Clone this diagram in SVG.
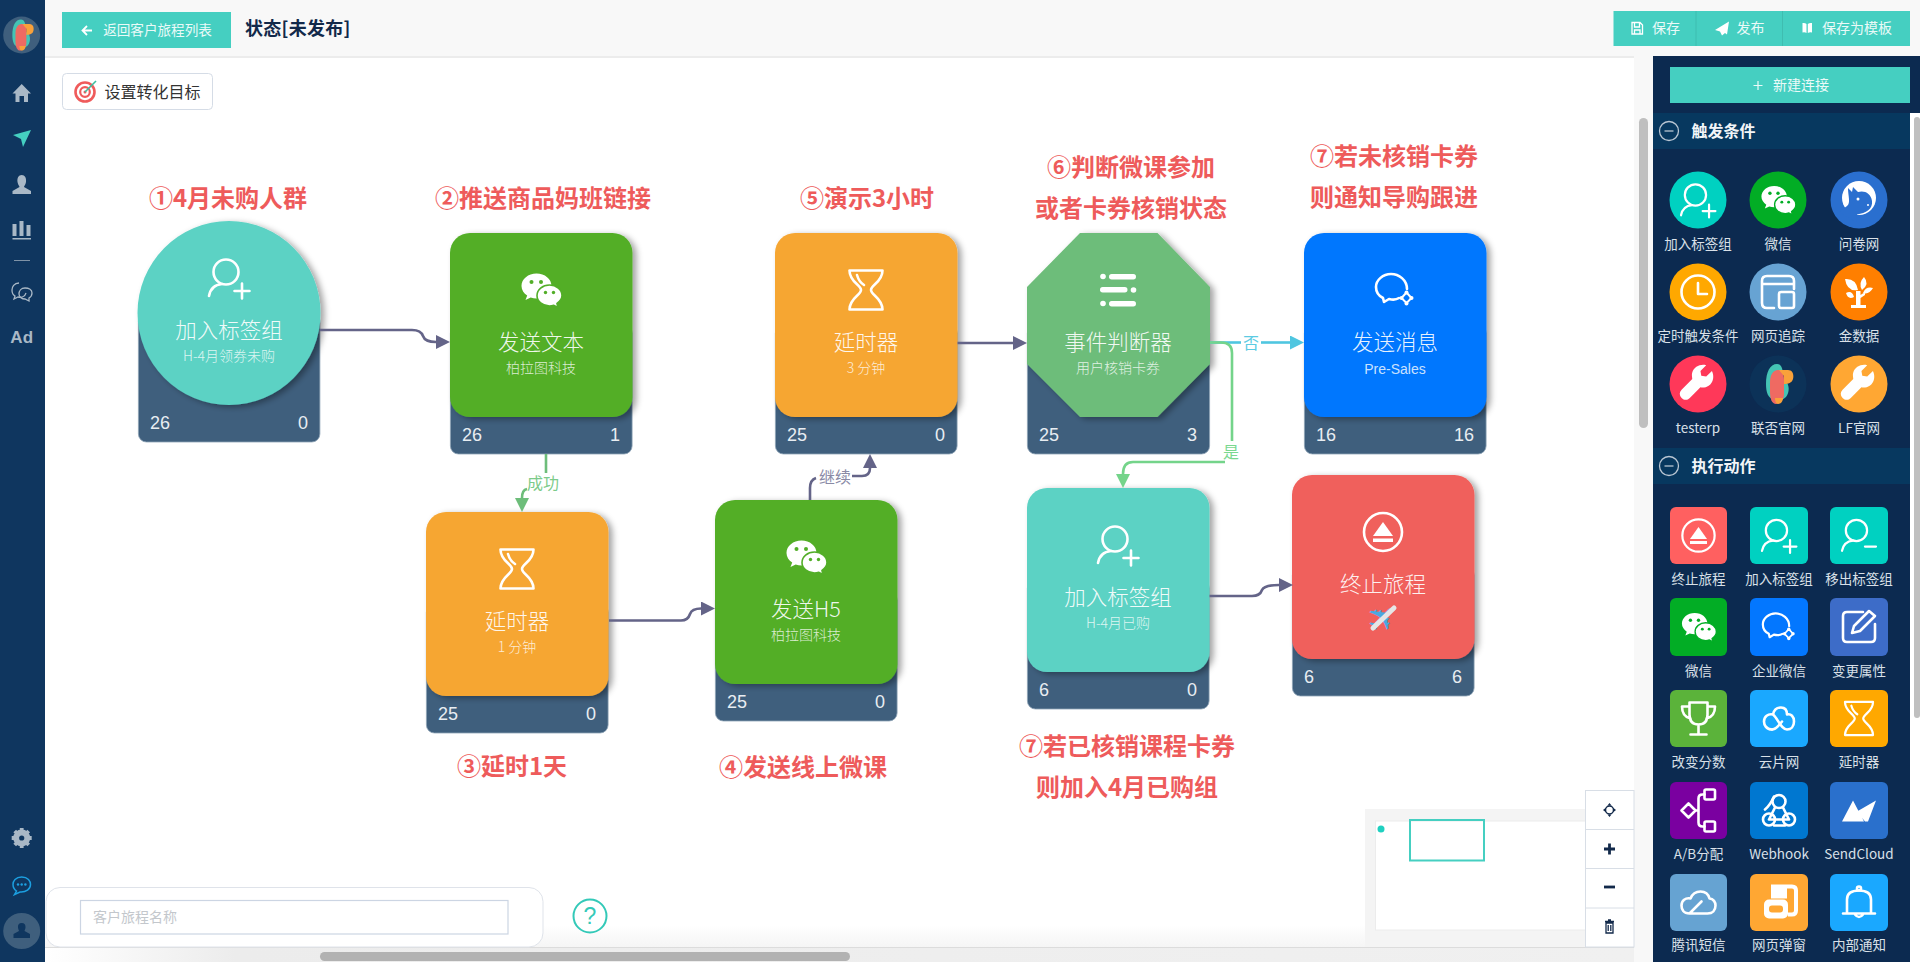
<svg xmlns="http://www.w3.org/2000/svg" width="1920" height="962" viewBox="0 0 1920 962">
<style>
text{font-family:"Noto Sans CJK SC","Liberation Sans",sans-serif}
.c{text-anchor:middle;dominant-baseline:central}
.note{font-size:24px;font-weight:700;fill:#ee5b5b;text-anchor:middle;dominant-baseline:central;transform:translateY(-2.5px)}
.ttl{font-size:21.5px;font-weight:300;fill:#fff;fill-opacity:.92;text-anchor:middle;dominant-baseline:central;transform:translateY(-2.2px)}
.sub{font-size:14px;font-weight:300;fill:#fff;fill-opacity:.8;text-anchor:middle;dominant-baseline:central;transform:translateY(-2px)}
.num{font-family:"Liberation Sans",sans-serif;font-size:18px;fill:#e8edf2;dominant-baseline:central}
.foot{fill:#3f5f7d;stroke:#8ea3b6;stroke-width:.8}
.lb{font-size:13.5px;fill:#d9e0e8;text-anchor:middle;dominant-baseline:central;transform:translateY(-1.5px)}
.btn{font-size:14px;fill:#eafaf8;text-anchor:middle;dominant-baseline:central;transform:translateY(-1.3px)}
.ln{fill:none;stroke:#fff;stroke-width:2.6;stroke-linecap:round;stroke-linejoin:round}
.wf{fill:#fff}
.side{fill:#a9b8c6}
.con{fill:none;stroke-width:2.6}
.head{font-size:16px;font-weight:700;fill:#f2f5f8;dominant-baseline:central;transform:translateY(-1.5px)}
.cl{font-size:16px;text-anchor:middle;dominant-baseline:central;transform:translateY(-1.5px)}
</style>
<defs>
<filter id="sh" x="-15%" y="-15%" width="135%" height="135%"><feDropShadow dx="4" dy="2" stdDeviation="3" flood-color="#000" flood-opacity=".36"/></filter>
<linearGradient id="bot" x1="0" x2="1" y1="0" y2="0"><stop offset="0" stop-color="#fff"/><stop offset=".12" stop-color="#ececec"/><stop offset="1" stop-color="#f0f0f0"/></linearGradient>
<linearGradient id="fade" x1="0" x2="0" y1="0" y2="1"><stop offset="0" stop-color="#fff"/><stop offset="1" stop-color="#f5f5f5"/></linearGradient>
<marker id="aP" markerUnits="userSpaceOnUse" markerWidth="15" markerHeight="16" refX="0" refY="7" orient="auto"><path d="M0 0L14 7L0 14Z" fill="#646488"/></marker>
<marker id="aG" markerUnits="userSpaceOnUse" markerWidth="15" markerHeight="16" refX="0" refY="7" orient="auto"><path d="M0 0L14 7L0 14Z" fill="#6dbd7a"/></marker>
<marker id="aL" markerUnits="userSpaceOnUse" markerWidth="15" markerHeight="16" refX="0" refY="7" orient="auto"><path d="M0 0L14 7L0 14Z" fill="#74d48a"/></marker>
<marker id="aB" markerUnits="userSpaceOnUse" markerWidth="15" markerHeight="16" refX="0" refY="7" orient="auto"><path d="M0 0L14 7L0 14Z" fill="#4fc6e0"/></marker>
<g id="i-person"><circle class="ln" cx="-3" cy="-6" r="12.5"/><path class="ln" d="M-20 18Q-18 7-7 6M13 5.500V20.500M5.500 13H20.500"/></g>
<g id="i-minus"><circle class="ln" cx="-3" cy="-6" r="12.5"/><path class="ln" d="M-20 18Q-18 7-7 6M7 13H20"/></g>
<g id="i-wechat"><path class="wf" d="M-4.500-16.500C-12.800-16.500-19.500-11-19.500-4C-19.500 0-17.200 3.300-13.800 5.600L-15.500 10L-10.300 7.500C-8.500 8.100-6.500 8.500-4.500 8.500C3.800 8.500 10.500 3 10.500-4C10.500-11 3.800-16.500-4.500-16.500Z"/><path class="wf" d="M8.500-5C1.500-5-4-.3-4 5.500C-4 11.300 1.500 16 8.500 16C10 16 11.500 15.700 12.800 15.300L17 17.500L16 13.500C19 11.300 21 8.500 21 5.500C21-.3 15.500-5 8.500-5Z" stroke="currentColor" stroke-width="1.600"/><circle cx="-9.500" cy="-8" r="2" fill="currentColor"/><circle cx="0" cy="-8" r="2" fill="currentColor"/><circle cx="4.500" cy="2.500" r="1.700" fill="currentColor"/><circle cx="12.500" cy="2.500" r="1.700" fill="currentColor"/></g>
<g id="i-glass"><path class="ln" d="M-16.500-19.500H16.500C16.500-8 5-5 5 0C5 5 16.500 8 16.500 19.500H-16.500C-16.500 8-5 5-5 0C-5-5-16.500-8-16.500-19.500ZM-9-15Q-7-8-2-5"/></g>
<g id="i-list"><g class="wf"><circle cx="-15" cy="-13.500" r="2.800"/><rect x="-9" y="-16" width="27" height="5.400" rx="2.700"/><rect x="-18" y="-3" width="27.500" height="5.400" rx="2.700"/><circle cx="15.500" cy="0" r="2.800"/><circle cx="-15" cy="13.500" r="2.800"/><rect x="-9" y="11" width="27" height="5.400" rx="2.700"/></g></g>
<g id="i-wecom"><path class="ln" d="M12-1C12-10 4-16-4-16C-12-16-19-10-19-3C-19 2-16 6-12 8L-11 12L-6 9C-2 10 1 10 4 8"/><path class="ln" d="M11.500 2.500L16.500 8L11.500 13L6.500 8Z" style="stroke-width:2"/><circle class="wf" cx="11.500" cy="2.500" r="2"/><circle class="wf" cx="16.500" cy="8" r="2"/><circle class="wf" cx="11.500" cy="13.500" r="2"/><circle class="wf" cx="6.500" cy="8" r="2"/></g>
<g id="i-eject"><circle class="ln" r="19"/><path class="wf" d="M0-10L10 4H-10Z"/><rect class="wf" x="-10" y="6.500" width="20" height="3.500"/></g>
<g id="i-clock"><circle class="ln" r="16.500"/><path class="ln" d="M0-9V2H9"/></g>
<g id="i-window"><path class="ln" d="M16-3V-11Q16-16 11-16H-11Q-16-16-16-11V11Q-16 16-11 16H-4M-16-8H16"/><rect class="ln" x="1" y="0" width="15" height="16" rx="2"/></g>
<g id="i-plant"><path class="wf" d="M-14-13Q-3-14-1-2Q-12 0-14-13ZM5-15Q11-8 3-2Q-1-9 5-15ZM14-4Q10 3 4 1Q7-6 14-4ZM-13 1Q-7-2-5 5Q-11 8-13 1ZM-3-1H1.500V3L6 0V3L1.500 6V13H7V16H-8V13H-3Z"/></g>
<g id="i-dog"><circle class="wf" cy="-2" r="17"/><path fill="currentColor" d="M-11-12L-7-8L-6-13L-1-8C5-10 12-7 13 1C14 9 7 13-2 14.500L-3 22L-20 12L-12 6C-8 3-11-4-11-12Z"/><circle class="wf" cx="-1" cy="-1" r="1.500"/><circle class="wf" cx="9" cy="5" r="1"/></g>
<g id="i-wrench"><path class="wf" d="M17-16L10-9L4-10L3-16L10-23C3-25-5-21-7-14C-8-11-7-8-7-6L-20 7C-23 10-23 14-20 17C-17 20-13 20-10 17L3 4C6 5 10 4 13 2C19-2 20-10 17-16Z" transform="scale(.82)"/></g>
<g id="i-logo"><path fill="#45c4b4" d="M-12 0C-12-12-8-20-1-20C4-20 5-14 5-8V-4C12-2 12 8 8 13C4 17-2 18-4 15C-10 15-12 8-12 0Z"/><path fill="#ef6a62" d="M-8-2C-8-9-5-14 0-14C5-14 6-9 6-4V10C6 16 1 20-2 20C-6 20-8 15-8 8Z"/><path fill="#f9a13a" d="M1-14H10C15-14 16-9 15-5C14-1 10 0 6 0V-8ZM-3 14H5C5 17 3 20 0 20C-2 20-3 17-3 14Z"/></g>
<g id="i-trophy"><path class="ln" d="M-9-16H9V-4Q9 6 0 6Q-9 6-9-4ZM-9-12H-16.500Q-16.500-2-8 0M9-12H16.500Q16.500-2 8 0M0 6V16M-8 16H8"/></g>
<g id="i-cloud"><path class="ln" d="M-7 11C-13 11-15 6-15 3C-15-2-11-5-6-4C-5-9-2-11 2-11C6-11 8-8 8-4C12-5 15-2 15 3C15 8 12 11 8 11C2 11-1 0-6-4"/><path class="ln" d="M-7 11C-3 11 0 7 3 3"/></g>
<g id="i-ab"><path class="ln" d="M-17 0L-10-7L-3 0L-10 7ZM-3 0H0M0-12Q0-16 4-16H6M0 12Q0 16 4 16H6M0-12V12"/><rect class="ln" x="6" y="-21" width="10.500" height="10" rx="1.500"/><rect class="ln" x="6" y="11" width="10.500" height="10" rx="1.500"/></g>
<g id="i-hook"><circle class="ln" cx="0" cy="-9" r="6.500"/><circle class="ln" cx="-10" cy="9" r="6"/><circle class="ln" cx="10" cy="9" r="6"/><path class="ln" d="M-4-3L-10 9M4-3L10 9M-10 9H10M-5-14Q-9-5-14-1M-5 15H6"/></g>
<g id="i-send"><path class="wf" d="M-17 11L-6-10L5 11ZM-2 1L17-10L9 11H6Z"/></g>
<g id="i-edit"><path class="ln" d="M4-15H-12Q-16-15-16-11V11Q-16 15-12 15H12Q16 15 16 11V-3M-7 6L-5-1L10-16L16-11L1 4Z"/></g>
<g id="i-popup"><path d="M-8-16H13Q17-16 17-12V8Q17 12 13 12H9" fill="none" stroke="#fff" stroke-width="4"/><path class="wf" d="M-8-16H8V-4H-8Z"/><rect class="wf" x="-15" y="-3" width="24" height="19" rx="5"/><rect x="-10" y="3" width="14" height="7" rx="3" fill="currentColor"/></g>
<g id="i-bell"><path class="ln" d="M-12 11V-3Q-12-12 0-12Q12-12 12-3V11M-16 11H16M-4 12Q0 17 4 12"/><circle class="ln" cy="-14" r="2"/></g>
<g id="i-tx"><path class="ln" d="M-9 11C-15 11-17 7-17 3C-17-2-13-5-8-4C-6-9-2-11 2-11C7-11 10-8 11-4C15-4 17 0 17 3C17 8 14 11 9 11H-9L3-1"/></g>
</defs>

<rect width="1920" height="962" fill="#fff"/>

<!-- canvas chrome -->
<rect x="45" y="56" width="1589" height="2" fill="#ececec"/>
<rect x="45" y="0" width="1875" height="56" fill="#f8f8f8"/>
<rect x="45" y="925" width="1589" height="22" fill="url(#fade)"/>
<rect x="45" y="947" width="1589" height="15" fill="url(#bot)"/>
<rect x="45" y="947" width="1589" height="1" fill="#dcdcdc"/>
<rect x="320" y="952" width="530" height="9" rx="4.500" fill="#b2b2b2"/>
<rect x="1634" y="56" width="19" height="906" fill="#f8f8f8"/>
<rect x="1639" y="118" width="9" height="310" rx="4.500" fill="#bfbfbf"/>

<!-- left sidebar -->
<g id="sidebar">
<rect width="45" height="962" fill="#0f365f"/>
<circle cx="21.700" cy="35" r="18.500" fill="#3f5f7d"/>
<use href="#i-logo" transform="translate(21.700 35) scale(.78)"/>
<path class="side" d="M21.700 84L31 93.500H28V102H24V96H19.500V102H15.500V93.500H12.500Z"/>
<path fill="#45cfc1" d="M13 135L31 130L23 147L21 139Z"/>
<path class="side" d="M21.700 175C25 175 26.500 178 26 182C25.500 185 24 186 24 187L31 191V194H12.500V191L19.500 187C19.500 186 18 185 17.500 182C17 178 18.500 175 21.700 175Z"/>
<path class="side" d="M12.500 224H16.500V236H12.500ZM19.500 221H23.500V236H19.500ZM26.500 225H30.500V236H26.500ZM12.500 238H31V239.500H12.500Z"/>
<rect x="14" y="260" width="16" height="1" fill="#7f93a7"/>
<g fill="none" stroke="#a9b8c6" stroke-width="1.300"><path d="M19 283C14 283 12 287 12 290C12 293 13 295 15 296L14 299L18 297C22 298 25 296 26 293"/><path d="M25 288C21 288 19 291 19 294C19 297 22 299 25 299L29 301L29 298C31 297 32 295 32 293C32 290 29 288 25 288Z"/></g>
<text x="21.700" y="337" class="c" style="font-family:'Liberation Sans',sans-serif;font-weight:700;font-size:17px;fill:#a9b8c6">Ad</text>
<g transform="translate(21.700 838)"><circle r="6" fill="none" stroke="#a9b8c6" stroke-width="5"/><g stroke="#a9b8c6" stroke-width="3.800"><path d="M0-10V10M-10 0H10M-7-7L7 7M-7 7L7-7"/></g><circle r="5.500" fill="#a9b8c6"/><circle r="2.600" fill="#0f365f"/></g>
<path d="M21.700 877C15.500 877 13 881 13 884.500C13 888 15 890 16.500 891L14.500 894.500L20 892C26 892.500 30.500 889 30.500 884.500C30.500 881 28 877 21.700 877Z" fill="none" stroke="#1c9fe0" stroke-width="1.500"/>
<g fill="#1c9fe0"><circle cx="18" cy="884.500" r="1.200"/><circle cx="21.700" cy="884.500" r="1.200"/><circle cx="25.400" cy="884.500" r="1.200"/></g>
<ellipse cx="21.700" cy="931" rx="18.500" ry="18" fill="#3f5f7d"/>
<path fill="#0f365f" d="M21.700 923C24.500 923 25.800 925 25.500 927.500C25.300 929.500 24.500 930.500 24.500 931L30 934V938H13.500V934L19 931C19 930.500 18.200 929.500 18 927.500C17.600 925 19 923 21.700 923Z"/>
</g>

<!-- top bar -->
<g id="topbar">
<rect x="62" y="12" width="169" height="36" fill="#45cfc1"/>
<path d="M92 30.500H83M87 26L82.500 30.500L87 35" fill="none" stroke="#fff" stroke-width="1.800"/>
<text x="157.500" y="30.500" class="btn" style="font-size:13.600px">返回客户旅程列表</text>
<text x="245" y="27" style="font-size:18px;font-weight:700;letter-spacing:.3px;fill:#12294a;dominant-baseline:central">状态[未发布]</text>
<rect x="1613.500" y="11" width="296.500" height="35" fill="#45cfc1"/>
<path d="M1696 11V46M1782.500 11V46" stroke="#3fbdb0" stroke-width="1"/>
<path d="M1632 22.500H1640L1642.500 25V34H1632ZM1634.500 22.500V27H1639.500V22.500M1634.500 34V30H1640V34" fill="none" stroke="#fff" stroke-width="1.300"/>
<text x="1666" y="28.500" class="btn">保存</text>
<path d="M1729 21.500L1715 30L1720 31.500L1722 35.500L1725 33L1727 34.500Z" fill="#fff"/>
<text x="1750.500" y="28.500" class="btn">发布</text>
<path d="M1802.500 23Q1805 22.500 1806.500 24V33Q1805 32 1802.500 32.500ZM1812 23Q1809.500 22.500 1807.800 24V33Q1809.500 32 1812 32.500Z" fill="#fff"/>
<text x="1857" y="28.500" class="btn">保存为模板</text>
</g>
<g id="goal">
<rect x="62.500" y="73.500" width="150" height="36" rx="4" fill="#fff" stroke="#d5dce6"/>
<circle cx="85" cy="92" r="9.500" fill="none" stroke="#ef5b5b" stroke-width="2.600"/>
<circle cx="85" cy="92" r="4.800" fill="none" stroke="#ef5b5b" stroke-width="2.200"/>
<circle cx="85" cy="92" r="1.500" fill="#ef5b5b"/>
<path d="M85 92L96 81" stroke="#3dbfa0" stroke-width="1.600"/>
<text x="152.500" y="91.200" class="c" style="font-size:16px;fill:#333">设置转化目标</text>
</g>

<!-- annotations -->
<g id="notes">
<text class="note" x="228" y="199">①4月未购人群</text>
<text class="note" x="543" y="199">②推送商品妈班链接</text>
<text class="note" x="512" y="767">③延时1天</text>
<text class="note" x="803" y="768">④发送线上微课</text>
<text class="note" x="867" y="199">⑤演示3小时</text>
<text class="note" x="1131" y="168">⑥判断微课参加</text>
<text class="note" x="1131" y="209">或者卡券核销状态</text>
<text class="note" x="1394" y="157">⑦若未核销卡券</text>
<text class="note" x="1394" y="198">则通知导购跟进</text>
<text class="note" x="1127" y="747">⑦若已核销课程卡券</text>
<text class="note" x="1127" y="788">则加入4月已购组</text>
</g>

<!-- nodes -->
<g id="node-1" transform="translate(138 221)">
<rect class="foot" x=".4" y="92" width="181.500" height="129" rx="8"/>
<ellipse cx="91" cy="92" rx="91.500" ry="92" fill="#5cd2c4" filter="url(#sh)"/>
<use href="#i-person" transform="translate(91 57)"/>
<text class="ttl" x="91" y="110">加入标签组</text><text class="sub" x="91" y="136">H-4月领券未购</text>
<text class="num" x="12" y="202">26</text><text class="num" x="170" y="202" text-anchor="end">0</text>
</g>
<g id="node-2" transform="translate(450 233)" color="#52ae28">
<rect class="foot" x=".4" y="92" width="181.700" height="129" rx="8"/>
<rect width="182.500" height="184" rx="20" fill="#52ae28" filter="url(#sh)"/>
<use href="#i-wechat" transform="translate(91 57)"/>
<text class="ttl" x="91" y="110">发送文本</text><text class="sub" x="91" y="136">柏拉图科技</text>
<text class="num" x="12" y="202">26</text><text class="num" x="170" y="202" text-anchor="end">1</text>
</g>
<g id="node-3" transform="translate(426 512)">
<rect class="foot" x=".4" y="92" width="181.700" height="129" rx="8"/>
<rect width="182.500" height="184" rx="20" fill="#f6a632" filter="url(#sh)"/>
<use href="#i-glass" transform="translate(91 57)"/>
<text class="ttl" x="91" y="110">延时器</text><text class="sub" x="91" y="136">1 分钟</text>
<text class="num" x="12" y="202">25</text><text class="num" x="170" y="202" text-anchor="end">0</text>
</g>
<g id="node-4" transform="translate(715 500)" color="#52ae28">
<rect class="foot" x=".4" y="92" width="181.700" height="129" rx="8"/>
<rect width="182.500" height="184" rx="20" fill="#52ae28" filter="url(#sh)"/>
<use href="#i-wechat" transform="translate(91 57)"/>
<text class="ttl" x="91" y="110">发送H5</text><text class="sub" x="91" y="136">柏拉图科技</text>
<text class="num" x="12" y="202">25</text><text class="num" x="170" y="202" text-anchor="end">0</text>
</g>
<g id="node-5" transform="translate(775 233)">
<rect class="foot" x=".4" y="92" width="181.700" height="129" rx="8"/>
<rect width="182.500" height="184" rx="20" fill="#f6a632" filter="url(#sh)"/>
<use href="#i-glass" transform="translate(91 57)"/>
<text class="ttl" x="91" y="110">延时器</text><text class="sub" x="91" y="136">3 分钟</text>
<text class="num" x="12" y="202">25</text><text class="num" x="170" y="202" text-anchor="end">0</text>
</g>
<g id="node-6" transform="translate(1027 233)">
<rect class="foot" x=".4" y="92" width="182.200" height="129" rx="8"/>
<path d="M53 0H130.500L183 54V131L130.500 184H53L0 131V54Z" fill="#6dbd7a" filter="url(#sh)"/>
<use href="#i-list" transform="translate(91 57)"/>
<text class="ttl" x="91" y="110">事件判断器</text><text class="sub" x="91" y="136">用户核销卡券</text>
<text class="num" x="12" y="202">25</text><text class="num" x="170" y="202" text-anchor="end">3</text>
</g>
<g id="node-7" transform="translate(1304 233)">
<rect class="foot" x=".4" y="92" width="181.700" height="129" rx="8"/>
<rect width="182.500" height="184" rx="20" fill="#0277fe" filter="url(#sh)"/>
<use href="#i-wecom" transform="translate(91 57)"/>
<text class="ttl" x="91" y="110">发送消息</text><text class="sub" x="91" y="136" style="font-family:'Liberation Sans',sans-serif;transform:none">Pre-Sales</text>
<text class="num" x="12" y="202">16</text><text class="num" x="170" y="202" text-anchor="end">16</text>
</g>
<g id="node-8" transform="translate(1027 488)">
<rect class="foot" x=".4" y="92" width="181.700" height="129" rx="8"/>
<rect width="182.500" height="184" rx="20" fill="#5cd2c4" filter="url(#sh)"/>
<use href="#i-person" transform="translate(91 57)"/>
<text class="ttl" x="91" y="110">加入标签组</text><text class="sub" x="91" y="136">H-4月已购</text>
<text class="num" x="12" y="202">6</text><text class="num" x="170" y="202" text-anchor="end">0</text>
</g>
<g id="node-9" transform="translate(1292 475)">
<rect class="foot" x=".4" y="92" width="181.700" height="129" rx="8"/>
<rect width="182.500" height="184" rx="20" fill="#f0605b" filter="url(#sh)"/>
<use href="#i-eject" transform="translate(91 57)"/>
<text class="ttl" x="91" y="110">终止旅程</text>
<text x="90" y="143" class="c" style="font-family:'DejaVu Sans',sans-serif;font-size:36px;fill:#4aa8e0" transform="rotate(-45 90 143)">✈</text>
<path d="M81 153L102 133" stroke="#e6e6e6" stroke-width="5" stroke-linecap="round"/>
<text class="num" x="12" y="202">6</text><text class="num" x="170" y="202" text-anchor="end">6</text>
</g>

<!-- connectors -->
<g id="connectors">
<path class="con" stroke="#646488" marker-end="url(#aP)" d="M320 330H412Q421 330 423 336Q425 342 436 342"/>
<path class="con" stroke="#6dbd7a" d="M546 454V473"/>
<path class="con" stroke="#6dbd7a" marker-end="url(#aG)" d="M527 489Q522 490 522 498"/>
<text class="cl" x="543" y="483" fill="#7ccb8a">成功</text>
<path class="con" stroke="#646488" marker-end="url(#aP)" d="M609 620.500H681Q688 620.500 690 614Q692 608.500 701 608.500"/>
<path class="con" stroke="#646488" d="M810 500V488Q810 480 816 478"/>
<path class="con" stroke="#646488" marker-end="url(#aP)" d="M852 476H862Q870 476 870 468"/>
<text class="cl" x="835" y="477" fill="#8a8aa6">继续</text>
<path class="con" stroke="#646488" marker-end="url(#aP)" d="M957.500 343H1013"/>
<path class="con" stroke="#4fc6e0" d="M1210 342.500H1241"/>
<path class="con" stroke="#4fc6e0" marker-end="url(#aB)" d="M1261 342.500H1290"/>
<text class="cl" x="1251" y="343" fill="#5ccbe3">否</text>
<path class="con" stroke="#74d48a" d="M1210 342.500H1221Q1232 342.500 1232 353V441"/>
<path class="con" stroke="#74d48a" marker-end="url(#aL)" d="M1225 462H1133Q1123 462 1123 474"/>
<text class="cl" x="1231" y="452" fill="#7ad88f">是</text>
<path class="con" stroke="#646488" marker-end="url(#aP)" d="M1209.500 596H1252Q1260 596 1262 590Q1264 585 1279 585"/>
</g>

<!-- bottom form -->
<g id="name-form">
<rect x="46" y="887.500" width="497" height="59.500" rx="14" fill="#fff" stroke="#dfe3ea"/>
<rect x="80.500" y="900.500" width="427.500" height="33.500" fill="#fff" stroke="#ccd5e3" stroke-width="1.200"/>
<text x="93" y="916" style="font-size:14px;fill:#c3c7cc;dominant-baseline:central">客户旅程名称</text>
<circle cx="590" cy="916" r="16.500" fill="#fff" stroke="#33c9b8" stroke-width="2"/>
<text x="590" y="916" class="c" style="font-family:'Liberation Sans',sans-serif;font-size:23px;fill:#33c9b8">?</text>
</g>

<!-- minimap and tools -->
<g id="minimap">
<rect x="1365" y="809" width="220" height="138" fill="#f4f4f4"/>
<rect x="1375.500" y="821" width="210" height="109" fill="#fff" stroke="#ececec"/>
<circle cx="1381" cy="829" r="3.500" fill="#1fd0c0"/>
<rect x="1410" y="820" width="74" height="40.500" fill="none" stroke="#45cfc1" stroke-width="2"/>
</g>
<g id="tools">
<rect x="1585.500" y="790.500" width="48.500" height="156.500" fill="#fff" stroke="#d8dee6"/>
<path d="M1585.500 829.500H1634M1585.500 868.500H1634M1585.500 908H1634" stroke="#d8dee6"/>
<circle cx="1609.500" cy="810" r="4" fill="none" stroke="#12294a" stroke-width="1.500"/>
<path d="M1609.500 803L1607.500 805.500H1611.500ZM1609.500 817L1607.500 814.500H1611.500ZM1603 810L1605.500 808V812ZM1616 810L1613.500 808V812Z" fill="#12294a"/>
<path d="M1609.500 843.500V854.500M1604 849H1615" stroke="#12294a" stroke-width="2.800"/>
<path d="M1604 887H1615" stroke="#12294a" stroke-width="2.800"/>
<path d="M1606 923H1613V933H1606ZM1605 921.500H1614M1608 920H1611M1608.200 925V931M1610.800 925V931" fill="none" stroke="#12294a" stroke-width="1.300"/>
</g>

<!-- right panel -->
<g id="panel">
<rect x="1653" y="56" width="267" height="906" fill="#0c2a50"/>
<rect x="1910" y="113" width="10" height="849" fill="#fff"/>
<rect x="1914" y="117" width="6" height="601" rx="3" fill="#bfbfbf"/>
<rect x="1670" y="67" width="240" height="36" fill="#45cfc1"/>
<path d="M1758 81V90M1753.500 85.500H1762.500" stroke="#eafaf8" stroke-width="1.200"/>
<text x="1801" y="85.500" class="btn">新建连接</text>
<rect x="1653" y="113" width="257" height="36" fill="#07385f"/>
<circle cx="1669" cy="131" r="9.500" fill="none" stroke="#b9c6d3" stroke-width="1.300"/><path d="M1664.500 131H1673.500" stroke="#b9c6d3" stroke-width="1.300"/>
<text x="1691.500" y="131.500" class="head">触发条件</text>
<rect x="1653" y="448" width="257" height="36" fill="#07385f"/>
<circle cx="1669" cy="466" r="9.500" fill="none" stroke="#b9c6d3" stroke-width="1.300"/><path d="M1664.500 466H1673.500" stroke="#b9c6d3" stroke-width="1.300"/>
<text x="1691.500" y="466.500" class="head">执行动作</text>

<g id="t1" color="#00d1c1"><circle cx="1698" cy="200" r="28.500" fill="#00d1c1"/><use href="#i-person" transform="translate(1698 200) scale(.85)"/><text class="lb" x="1698" y="244">加入标签组</text></g>
<g id="t2" color="#02ad25"><circle cx="1778" cy="200" r="28.500" fill="#02ad25"/><use href="#i-wechat" transform="translate(1778 200) scale(.85)"/><text class="lb" x="1778" y="244">微信</text></g>
<g id="t3" color="#2a6fcf"><circle cx="1859" cy="200" r="28.500" fill="#2a6fcf"/><use href="#i-dog" transform="translate(1859 200)"/><text class="lb" x="1859" y="244">问卷网</text></g>
<g id="t4"><circle cx="1698" cy="292" r="28.500" fill="#ffa800"/><use href="#i-clock" transform="translate(1698 292)"/><text class="lb" x="1698" y="336">定时触发条件</text></g>
<g id="t5"><circle cx="1778" cy="292" r="28.500" fill="#67a3d3"/><use href="#i-window" transform="translate(1778 292)"/><text class="lb" x="1778" y="336">网页追踪</text></g>
<g id="t6"><circle cx="1859" cy="292" r="28.500" fill="#ff7f00"/><use href="#i-plant" transform="translate(1859 292)"/><text class="lb" x="1859" y="336">金数据</text></g>
<g id="t7"><circle cx="1698" cy="384" r="28.500" fill="#ff3859"/><use href="#i-wrench" transform="translate(1698 384)"/><text class="lb" x="1698" y="428">testerp</text></g>
<g id="t8"><circle cx="1778" cy="384" r="28.500" fill="#0c3258"/><use href="#i-logo" transform="translate(1778 384)"/><text class="lb" x="1778" y="428">联否官网</text></g>
<g id="t9"><circle cx="1859" cy="384" r="28.500" fill="#ffa733"/><use href="#i-wrench" transform="translate(1859 384)"/><text class="lb" x="1859" y="428">LF官网</text></g>

<g id="a1"><rect x="1670" y="507" width="57" height="57" rx="6" fill="#ff6060"/><use href="#i-eject" transform="translate(1698.500 535.500) scale(.85)"/><text class="lb" x="1698.500" y="579">终止旅程</text></g>
<g id="a2"><rect x="1750" y="507" width="58" height="57" rx="6" fill="#00d1c1"/><use href="#i-person" transform="translate(1779 535.500) scale(.85)"/><text class="lb" x="1779" y="579">加入标签组</text></g>
<g id="a3"><rect x="1830" y="507" width="58" height="57" rx="6" fill="#00d1c1"/><use href="#i-minus" transform="translate(1859 535.500) scale(.85)"/><text class="lb" x="1859" y="579">移出标签组</text></g>
<g id="a4" color="#02ad25"><rect x="1670" y="598" width="57" height="58" rx="6" fill="#02ad25"/><use href="#i-wechat" transform="translate(1698.500 627) scale(.85)"/><text class="lb" x="1698.500" y="671">微信</text></g>
<g id="a5"><rect x="1750" y="598" width="58" height="58" rx="6" fill="#0377ff"/><use href="#i-wecom" transform="translate(1779 627) scale(.85)"/><text class="lb" x="1779" y="671">企业微信</text></g>
<g id="a6"><rect x="1830" y="598" width="58" height="58" rx="6" fill="#3d6cc8"/><use href="#i-edit" transform="translate(1859 627)"/><text class="lb" x="1859" y="671">变更属性</text></g>
<g id="a7"><rect x="1670" y="690" width="57" height="57" rx="6" fill="#5bb33a"/><use href="#i-trophy" transform="translate(1698.500 718.500)"/><text class="lb" x="1698.500" y="762">改变分数</text></g>
<g id="a8"><rect x="1750" y="690" width="58" height="57" rx="6" fill="#1aa8ff"/><use href="#i-cloud" transform="translate(1779 718.500)"/><text class="lb" x="1779" y="762">云片网</text></g>
<g id="a9"><rect x="1830" y="690" width="58" height="57" rx="6" fill="#ffa800"/><use href="#i-glass" transform="translate(1859 718.500) scale(.85)"/><text class="lb" x="1859" y="762">延时器</text></g>
<g id="a10"><rect x="1670" y="782" width="57" height="57" rx="6" fill="#7a00a0"/><use href="#i-ab" transform="translate(1698.500 810.500)"/><text class="lb" x="1698.500" y="854">A/B分配</text></g>
<g id="a11"><rect x="1750" y="782" width="58" height="57" rx="6" fill="#0077d0"/><use href="#i-hook" transform="translate(1779 810.500)"/><text class="lb" x="1779" y="854">Webhook</text></g>
<g id="a12"><rect x="1830" y="782" width="58" height="57" rx="6" fill="#2a70cc"/><use href="#i-send" transform="translate(1859 810.500)"/><text class="lb" x="1859" y="854">SendCloud</text></g>
<g id="a13"><rect x="1670" y="874" width="57" height="57" rx="6" fill="#66a3d2"/><use href="#i-tx" transform="translate(1698.500 902.500)"/><text class="lb" x="1698.500" y="945">腾讯短信</text></g>
<g id="a14" color="#ffa733"><rect x="1750" y="874" width="58" height="57" rx="6" fill="#ffa733"/><use href="#i-popup" transform="translate(1779 902.500)"/><text class="lb" x="1779" y="945">网页弹窗</text></g>
<g id="a15"><rect x="1830" y="874" width="58" height="57" rx="6" fill="#1aa8ff"/><use href="#i-bell" transform="translate(1859 902.500)"/><text class="lb" x="1859" y="945">内部通知</text></g>
</g>
</svg>
